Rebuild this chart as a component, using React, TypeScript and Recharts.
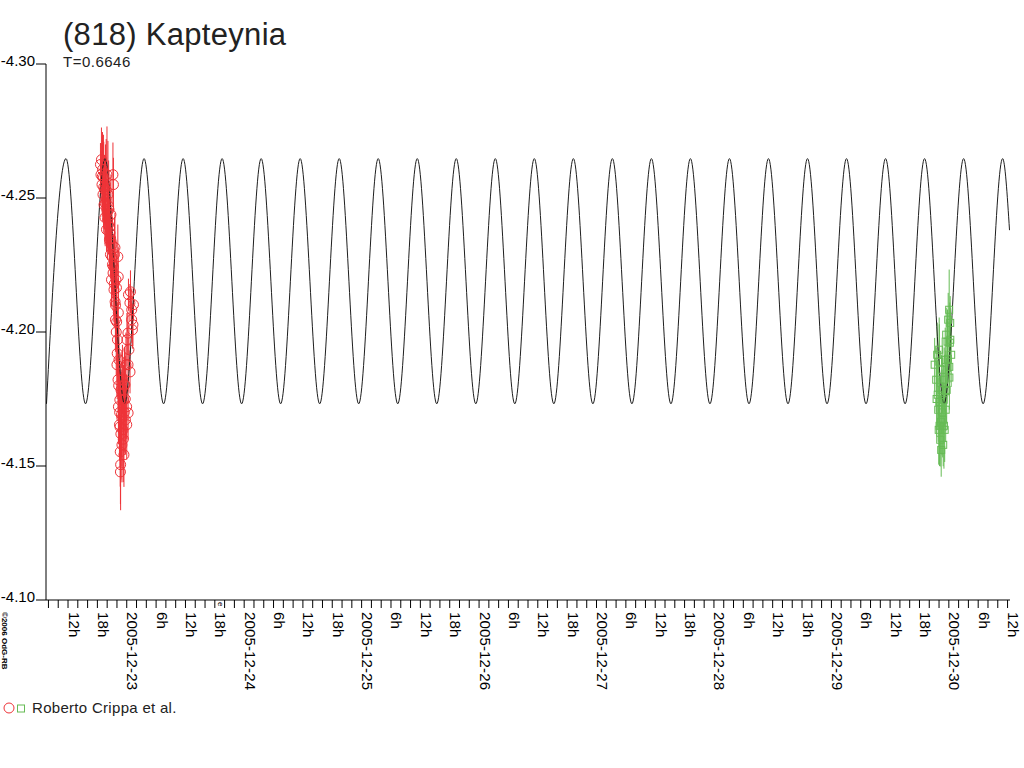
import React from 'react';
import { ComposedChart, Line, Scatter, XAxis, YAxis, ErrorBar } from 'recharts';

const FONT = '"Liberation Sans", Arial, Helvetica, sans-serif';
const RED = '#ee3338';
const GREEN = '#66bb55';
const CURVE = '#1e1e1e';

const TITLE = '(818) Kapteynia';
const SUBTITLE = 'T=0.6646';
const LEGEND_LABEL = 'Roberto Crippa et al.';
const COPYRIGHT = '\u00A92006 OdG-RB';
const MARK = 'e';
const DATE_PREFIX = '2005-12-';
const FIRST_DAY = 23; // t = 0 h  ->  2005-12-23 00:00

const Y_TICKS = [-4.3, -4.25, -4.2, -4.15, -4.1];
const Y_DOMAIN = [-4.3, -4.1];
const X_DOMAIN = [-16.5, 180.5];
const X_TICKS = Array.from({ length: 99 }, (_, i) => -16 + 2 * i);
const MARK_T = 18.9;

// model curve: times (h from 2005-12-23 00:00) of its extrema, and magnitudes there
const curveT = [
  -16.40, -12.41, -8.42, -4.44, -0.45, 3.54, 7.53, 11.52, 15.50, 19.49,
  23.48, 27.47, 31.45, 35.44, 39.43, 43.42, 47.40, 51.39, 55.38, 59.37,
  63.35, 67.34, 71.33, 75.32, 79.30, 83.29, 87.28, 91.27, 95.26, 99.24,
  103.23, 107.22, 111.21, 115.19, 119.18, 123.17, 127.16, 131.14, 135.13, 139.12,
  143.11, 147.09, 151.08, 155.07, 159.06, 163.04, 167.03, 171.02, 175.01, 178.99,
  180.40,
];
const curveMag = [
  -4.1732, -4.2647, -4.1732, -4.2647, -4.1732, -4.2647, -4.1732, -4.2647, -4.1732, -4.2647,
  -4.1732, -4.2647, -4.1732, -4.2647, -4.1732, -4.2647, -4.1732, -4.2647, -4.1732, -4.2647,
  -4.1732, -4.2647, -4.1732, -4.2647, -4.1732, -4.2647, -4.1732, -4.2647, -4.1732, -4.2647,
  -4.1732, -4.2647, -4.1732, -4.2647, -4.1732, -4.2647, -4.1732, -4.2647, -4.1732, -4.2647,
  -4.1732, -4.2647, -4.1732, -4.2647, -4.1732, -4.2647, -4.1732, -4.2647, -4.1732, -4.2647,
  -4.2380,
];

// session 1 (red circles)
const redT = [
  -5.37, -5.27, -5.17, -5.06, -4.96, -4.86, -4.76, -4.65, -4.55, -4.45,
  -4.35, -4.25, -4.14, -4.04, -3.94, -3.84, -3.74, -3.63, -3.53, -3.43,
  -3.33, -3.23, -3.12, -3.02, -2.92, -2.82, -2.75, -2.72, -2.61, -2.51,
  -2.41, -2.38, -2.31, -2.20, -2.10, -2.06, -2.00, -1.90, -1.82, -1.78,
  -1.74, -1.72, -1.70, -1.59, -1.49, -1.41, -1.37, -1.33, -1.29, -1.25,
  -1.18, -1.08, -0.98, -0.88, -0.78, -0.67, -0.57, -0.47, -0.37, -0.27,
  -0.16, -0.02, 0.00, 0.04, 0.24, 0.26, 0.28, 0.35, 0.45, 0.65,
  0.67, 0.76, 1.00, 1.02, 1.16, 1.27, 1.37,
  -5.00, -4.70, -4.40, -4.20, -3.90, -3.70, -3.50, -3.30, -3.00, -2.80,
  -2.55, -2.30, -2.15, -1.95, -1.65, -1.45, -1.20, -1.00, -0.70, -0.50,
  -0.30,
];
const redMag = [
  -4.2625, -4.2587, -4.2643, -4.2550, -4.2606, -4.2513, -4.2576, -4.2475, -4.2531, -4.2427,
  -4.2550, -4.2494, -4.2382, -4.2587, -4.2450, -4.2513, -4.2400, -4.2457, -4.2345, -4.2370,
  -4.2289, -4.2438, -4.2195, -4.2326, -4.2251, -4.2587, -4.2244, -4.2550, -4.2158, -4.2289,
  -4.2315, -4.2113, -4.2046, -4.2195, -4.2165, -4.2038, -4.1878, -4.1971, -4.2281, -4.1822,
  -4.2206, -4.2072, -4.1721, -4.1896, -4.1654, -4.1747, -4.1646, -4.1553, -4.1478, -4.1505,
  -4.1784, -4.1691, -4.1579, -4.1822, -4.1635, -4.1747, -4.1542, -4.1803, -4.1803, -4.1672,
  -4.1878, -4.1721, -4.1654, -4.1971, -4.1996, -4.1878, -4.1698, -4.2139, -4.1934, -4.2109,
  -4.1851, -4.2150, -4.2046, -4.2083, -4.2008, -4.2027, -4.2102,
  -4.2580, -4.2540, -4.2480, -4.2530, -4.2420, -4.2470, -4.2390, -4.2350, -4.2280, -4.2220,
  -4.2180, -4.2100, -4.2000, -4.1920, -4.1800, -4.1700, -4.1620, -4.1680, -4.1600, -4.1700,
  -4.1750,
];
const redErr = [
  0.008, 0.009, 0.012, 0.010, 0.014, 0.010, 0.016, 0.009, 0.013, 0.010,
  0.015, 0.012, 0.008, 0.018, 0.012, 0.020, 0.011, 0.014, 0.010, 0.012,
  0.009, 0.015, 0.010, 0.013, 0.011, 0.012, 0.012, 0.010, 0.012, 0.014,
  0.013, 0.010, 0.012, 0.015, 0.012, 0.010, 0.012, 0.014, 0.012, 0.012,
  0.011, 0.013, 0.014, 0.015, 0.012, 0.013, 0.015, 0.013, 0.012, 0.017,
  0.014, 0.016, 0.014, 0.013, 0.015, 0.013, 0.012, 0.014, 0.012, 0.013,
  0.012, 0.012, 0.013, 0.010, 0.008, 0.010, 0.010, 0.006, 0.008, 0.007,
  0.008, 0.008, 0.007, 0.008, 0.007, 0.008, 0.006,
  0.015, 0.017, 0.016, 0.019, 0.015, 0.017, 0.016, 0.014, 0.015, 0.014,
  0.016, 0.015, 0.016, 0.017, 0.016, 0.018, 0.017, 0.018, 0.016, 0.015,
  0.016,
];

// session 2 (green squares)
const greenT = [
  165.10, 165.42, 165.62, 165.73, 165.83, 165.93, 166.03, 166.05, 166.07, 166.24,
  166.38, 166.44, 166.54, 166.64, 166.75, 166.85, 166.95, 167.05, 167.15, 167.26,
  167.36, 167.46, 167.56, 167.72, 167.87, 168.07, 168.09, 168.11, 168.28, 168.30,
  168.48,
  165.50, 166.10, 166.60, 167.00, 167.40, 167.80, 168.20,
];
const greenMag = [
  -4.1878, -4.1822, -4.1915, -4.1766, -4.1710, -4.1635, -4.1934, -4.1889, -4.1739, -4.1598,
  -4.1665, -4.1560, -4.1784, -4.1859, -4.1672, -4.1579, -4.1747, -4.1822, -4.1635, -4.1896,
  -4.1710, -4.1990, -4.1784, -4.1964, -4.2046, -4.2083, -4.1870, -4.1830, -4.2034, -4.1971,
  -4.1915,
  -4.1750, -4.1650, -4.1700, -4.1650, -4.1780, -4.1900, -4.1960,
];
const greenErr = [
  0.010, 0.012, 0.012, 0.013, 0.012, 0.013, 0.012, 0.014, 0.012, 0.010,
  0.012, 0.010, 0.013, 0.012, 0.014, 0.008, 0.013, 0.012, 0.012, 0.012,
  0.012, 0.010, 0.012, 0.012, 0.010, 0.015, 0.010, 0.012, 0.010, 0.012,
  0.012,
  0.014, 0.015, 0.016, 0.016, 0.015, 0.014, 0.015,
];

const curveData = curveT.map((t, i) => ({ t, mag: curveMag[i] }));
const redData = redT.map((t, i) => ({ t, mag: redMag[i], err: redErr[i] }));
const greenData = greenT.map((t, i) => ({ t, mag: greenMag[i], err: greenErr[i] }));

function xLabel(t: number): string {
  const h = ((t % 24) + 24) % 24;
  if (h === 0) {
    const day = FIRST_DAY + Math.round(t / 24);
    return DATE_PREFIX + String(day);
  }
  return `${h}h`;
}

const XTick = (props: any) => {
  const { x, y, payload } = props;
  const t = payload.value as number;
  if (t % 6 !== 0) return null;
  const tx = x + 0.5;
  return (
    <text
      x={tx}
      y={y}
      transform={`rotate(90, ${tx}, ${y})`}
      textAnchor="start"
      fontFamily={FONT}
      fontSize={15}
      letterSpacing={0.15}
      fill="#000"
    >
      {xLabel(t)}
    </text>
  );
};

const YTick = (props: any) => {
  const { x, y, payload } = props;
  return (
    <text x={x} y={y + 2} textAnchor="end" fontFamily={FONT} fontSize={15} fill="#000">
      {(payload.value as number).toFixed(2)}
    </text>
  );
};

const circleShape = (p: any) => (
  <circle cx={p.cx} cy={p.cy} r={5} fill="none" stroke={RED} strokeWidth={1} />
);
const squareShape = (p: any) => (
  <rect x={p.cx - 3.5} y={p.cy - 3.5} width={7} height={7} fill="none" stroke={GREEN} strokeWidth={1} />
);

export default function App() {
  const markX = 46 + ((MARK_T - X_DOMAIN[0]) / (X_DOMAIN[1] - X_DOMAIN[0])) * 964;
  return (
    <div style={{ position: 'absolute', left: 0, top: 0, width: 1024, height: 768, background: '#fff' }}>
      <ComposedChart
        width={1024}
        height={768}
        margin={{ top: 64, right: 14, bottom: 0, left: 0 }}
        style={{ position: 'absolute', left: 0, top: 0 }}
      >
        <XAxis
          type="number"
          dataKey="t"
          domain={X_DOMAIN}
          ticks={X_TICKS}
          interval={0}
          allowDataOverflow
          height={168}
          tickSize={8}
          tickMargin={4}
          stroke="#000"
          tick={<XTick />}
        />
        <YAxis
          type="number"
          domain={Y_DOMAIN}
          reversed
          ticks={Y_TICKS}
          interval={0}
          allowDataOverflow
          width={46}
          tickSize={10}
          tickMargin={1}
          stroke="#000"
          tick={<YTick />}
        />
        <Scatter data={redData} dataKey="mag" isAnimationActive={false} shape={circleShape}>
          <ErrorBar dataKey="err" direction="y" width={0} stroke={RED} strokeWidth={1} isAnimationActive={false} />
        </Scatter>
        <Scatter data={greenData} dataKey="mag" isAnimationActive={false} shape={squareShape}>
          <ErrorBar dataKey="err" direction="y" width={0} stroke={GREEN} strokeWidth={1} isAnimationActive={false} />
        </Scatter>
        <Line
          data={curveData}
          dataKey="mag"
          type="monotone"
          stroke={CURVE}
          strokeWidth={1}
          dot={false}
          activeDot={false}
          isAnimationActive={false}
        />
      </ComposedChart>
      <svg
        width={1024}
        height={768}
        style={{ position: 'absolute', left: 0, top: 0, pointerEvents: 'none' }}
      >
        <text x={63} y={45} fontFamily={FONT} fontSize={31} letterSpacing={0.3} fill="#222">
          {TITLE}
        </text>
        <text x={63} y={67} fontFamily={FONT} fontSize={15} letterSpacing={0.5} fill="#222">
          {SUBTITLE}
        </text>
        <text
          x={1.5}
          y={612}
          transform="rotate(90, 1.5, 612)"
          fontFamily={FONT}
          fontSize={8}
          fontWeight="bold"
          fill="#000"
        >
          {COPYRIGHT}
        </text>
        <text
          x={markX - 1}
          y={602}
          transform={`rotate(90, ${markX - 1}, 602)`}
          fontFamily={FONT}
          fontSize={8}
          fill="#000"
        >
          {MARK}
        </text>
        <circle cx={9} cy={708} r={5} fill="none" stroke={RED} strokeWidth={1} />
        <rect x={17.5} y={705} width={7} height={7} fill="none" stroke={GREEN} strokeWidth={1} />
        <text x={32} y={713} fontFamily={FONT} fontSize={15} letterSpacing={0.3} fill="#222">
          {LEGEND_LABEL}
        </text>
      </svg>
    </div>
  );
}
